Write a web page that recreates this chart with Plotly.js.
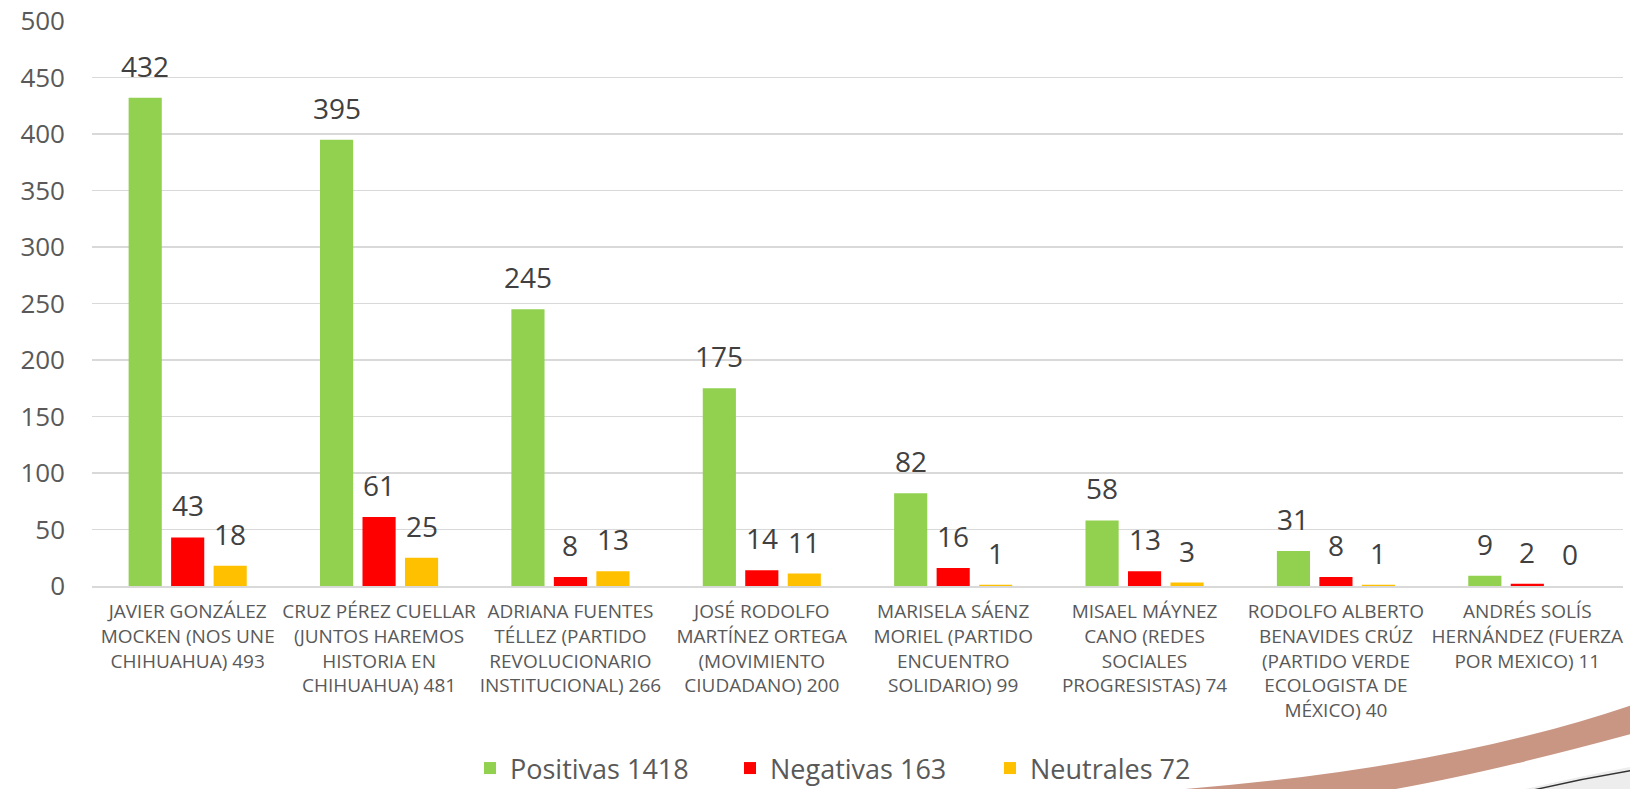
<!DOCTYPE html>
<html>
<head>
<meta charset="utf-8">
<script src="https://cdn.plot.ly/plotly-3.0.1.min.js"></script>
<style>html,body{margin:0;padding:0;background:#fff;}#chart{width:1630px;height:789px;}</style>
</head>
<body>
<div id="chart"></div>
<script>
const categories = [
  "JAVIER GONZÁLEZ<br>MOCKEN (NOS UNE<br>CHIHUAHUA) 493",
  "CRUZ PÉREZ CUELLAR<br>(JUNTOS HAREMOS<br>HISTORIA EN<br>CHIHUAHUA) 481",
  "ADRIANA FUENTES<br>TÉLLEZ (PARTIDO<br>REVOLUCIONARIO<br>INSTITUCIONAL) 266",
  "JOSÉ RODOLFO<br>MARTÍNEZ ORTEGA<br>(MOVIMIENTO<br>CIUDADANO) 200",
  "MARISELA SÁENZ<br>MORIEL (PARTIDO<br>ENCUENTRO<br>SOLIDARIO) 99",
  "MISAEL MÁYNEZ<br>CANO (REDES<br>SOCIALES<br>PROGRESISTAS) 74",
  "RODOLFO ALBERTO<br>BENAVIDES CRÚZ<br>(PARTIDO VERDE<br>ECOLOGISTA DE<br>MÉXICO) 40",
  "ANDRÉS SOLÍS<br>HERNÁNDEZ (FUERZA<br>POR MEXICO) 11"
];
const positivas = [432, 395, 245, 175, 82, 58, 31, 9];
const negativas = [43, 61, 8, 14, 16, 13, 8, 2];
const neutrales = [18, 25, 13, 11, 1, 3, 1, 0];
const seriesNames = ["Positivas 1418", "Negativas 163", "Neutrales 72"];
const yTickVals = [0, 50, 100, 150, 200, 250, 300, 350, 400, 450, 500];

const colors = ["#92d050", "#ff0000", "#ffc000"];
const W = 1630, H = 789;
const M = {l: 92, r: 7, t: 21, b: 203};
const plotW = W - M.l - M.r, plotH = H - M.t - M.b;
const bargap = 0.334, bargroupgap = 0.22;
const FONT = "'Open Sans', 'Noto Sans', sans-serif";

const allSeries = [positivas, negativas, neutrales];
const traces = allSeries.map((vals, i) => ({
  type: "bar",
  name: seriesNames[i],
  x: categories,
  y: vals,
  marker: {color: colors[i]},
  hoverinfo: "none"
}));

// data labels placed above each bar, anchored to data values
const catW = plotW / categories.length;
const slotW = catW * (1 - bargap) / 3;
const annotations = [];
allSeries.forEach((vals, i) => {
  vals.forEach((v, j) => {
    annotations.push({
      x: categories[j], y: v, xref: "x", yref: "y",
      text: String(v), showarrow: false,
      xanchor: "center", yanchor: "bottom",
      xshift: (i - 1) * slotW, yshift: 11,
      font: {family: FONT, size: 28, color: "#404040"}
    });
  });
});

// decorative swoosh (pixel -> paper helpers)
const px = x => (x - M.l) / plotW;
const py = y => (M.t + plotH - y) / plotH;
const P = (x, y) => px(x).toFixed(5) + "," + py(y).toFixed(5);
const shapes = [
  {type: "path", xref: "paper", yref: "paper", layer: "below",
   path: "M" + P(1500, 795) + " Q" + P(1570, 778) + " " + P(1635, 766) + " L" + P(1635, 795) + " Z",
   fillcolor: "#ededed", line: {width: 0}},
  {type: "path", xref: "paper", yref: "paper", layer: "below",
   path: "M" + P(1095, 795) + " Q" + P(1420, 778) + " " + P(1635, 704) +
         " L" + P(1635, 733) + " Q" + P(1470, 778) + " " + P(1360, 795) + " Z",
   fillcolor: "#c99684", line: {width: 0}},
  {type: "path", xref: "paper", yref: "paper", layer: "below",
   path: "M" + P(1525, 792) + " Q" + P(1580, 779) + " " + P(1635, 770),
   line: {color: "#333333", width: 1.5}}
];

const layout = {
  width: W, height: H,
  margin: M,
  paper_bgcolor: "#ffffff",
  plot_bgcolor: "rgba(0,0,0,0)",
  barmode: "group",
  bargap: bargap,
  bargroupgap: bargroupgap,
  font: {family: FONT, color: "#595959"},
  showlegend: true,
  legend: {
    orientation: "h",
    xref: "container", yref: "container",
    x: 470 / W, xanchor: "left",
    y: 1 - 744 / H, yanchor: "top",
    font: {family: FONT, size: 27, color: "#595959"},
    entrywidth: 215, entrywidthmode: "pixels",
    itemwidth: 30,
    bgcolor: "rgba(0,0,0,0)"
  },
  xaxis: {
    type: "category",
    automargin: false,
    tickfont: {family: FONT, size: 19, color: "#595959"},
    showgrid: false,
    showline: true, linecolor: "#d9d9d9", linewidth: 1.5,
    ticks: "", ticklabelstandoff: 8,
    fixedrange: true
  },
  yaxis: {
    range: [0, 500],
    automargin: false,
    tickvals: yTickVals,
    ticktext: yTickVals.map(String),
    tickfont: {family: FONT, size: 26, color: "#595959"},
    showgrid: true, gridcolor: "#d9d9d9", gridwidth: 1.5,
    zeroline: false,
    showline: false,
    ticks: "", ticklabelstandoff: 26,
    fixedrange: true
  },
  annotations: annotations,
  shapes: shapes
};

Plotly.newPlot("chart", traces, layout, {displayModeBar: false, staticPlot: true});
</script>
</body>
</html>
